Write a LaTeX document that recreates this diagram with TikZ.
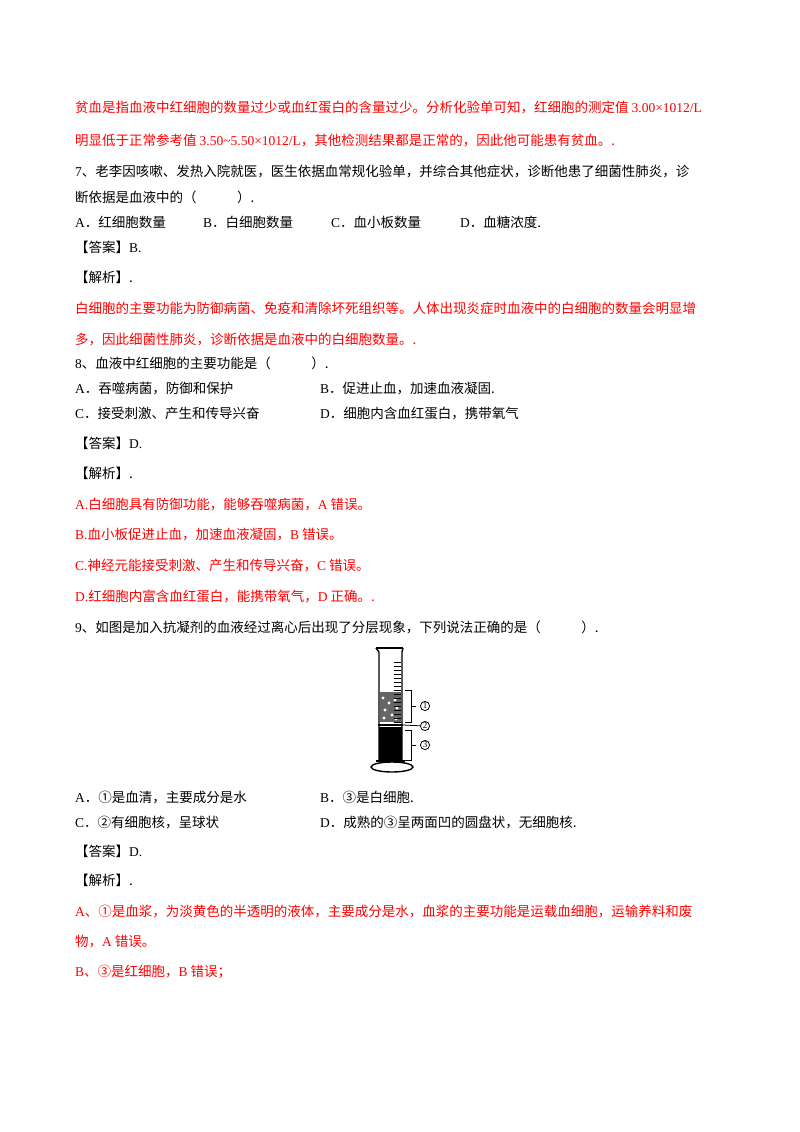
\documentclass[tikz,border=0pt]{standalone}
\usepackage{fontspec}
\setmainfont{Noto Sans CJK SC}
\newfontfamily\lat{Liberation Serif}
\definecolor{ansred}{HTML}{FF0000}
\tikzset{
  txt/.style={anchor=base west, inner sep=0pt, font=\fontsize{13.5}{16}\selectfont},
  redtxt/.style={txt, text=ansred},
  tube/.style={line width=1.4pt},
  tag/.style={circle, draw, line width=0.8pt, inner sep=0.6pt, font=\fontsize{9}{10}\selectfont\lat}
}
\begin{document}
\begin{tikzpicture}[x=1pt,y=-1pt]
  \useasboundingbox (0,0) rectangle (800,1132);
  % analysis of question 6
  \node[redtxt] (l1) at (75,112) {贫血是指血液中红细胞的数量过少或血红蛋白的含量过少。分析化验单可知，红细胞的测定值 {\lat 3.00×1012/L}};
  \node[redtxt] (l2) at (75,145) {明显低于正常参考值 {\lat 3.50\textasciitilde5.50×1012/L}，其他检测结果都是正常的，因此他可能患有贫血。.};
  % question 7
  \node[txt] (q7a) at (75,176) {{\lat 7}、老李因咳嗽、发热入院就医，医生依据血常规化验单，并综合其他症状，诊断他患了细菌性肺炎，诊};
  \node[txt] (q7b) at (75,202) {断依据是血液中的（\hspace{3em}）.};
  \node[txt] (q7A) at (75,227) {{\lat A}．红细胞数量};
  \node[txt] (q7B) at (203,227) {{\lat B}．白细胞数量};
  \node[txt] (q7C) at (331,227) {{\lat C}．血小板数量};
  \node[txt] (q7D) at (460,227) {{\lat D}．血糖浓度.};
  \node[txt] (a7) at (75,252) {【答案】{\lat B.}};
  \node[txt] (j7) at (75,282) {【解析】.};
  \node[redtxt] (e7a) at (75,313) {白细胞的主要功能为防御病菌、免疫和清除坏死组织等。人体出现炎症时血液中的白细胞的数量会明显增};
  \node[redtxt] (e7b) at (75,344) {多，因此细菌性肺炎，诊断依据是血液中的白细胞数量。.};
  % question 8
  \node[txt] (q8) at (75,368) {{\lat 8}、血液中红细胞的主要功能是（\hspace{3em}）.};
  \node[txt] (q8A) at (75,393) {{\lat A}．吞噬病菌，防御和保护};
  \node[txt] (q8B) at (320,393) {{\lat B}．促进止血，加速血液凝固.};
  \node[txt] (q8C) at (75,418) {{\lat C}．接受刺激、产生和传导兴奋};
  \node[txt] (q8D) at (320,418) {{\lat D}．细胞内含血红蛋白，携带氧气};
  \node[txt] (a8) at (75,448) {【答案】{\lat D.}};
  \node[txt] (j8) at (75,478) {【解析】.};
  \node[redtxt] (e8a) at (75,509) {{\lat A.}白细胞具有防御功能，能够吞噬病菌，{\lat A} 错误。};
  \node[redtxt] (e8b) at (75,539) {{\lat B.}血小板促进止血，加速血液凝固，{\lat B} 错误。};
  \node[redtxt] (e8c) at (75,570) {{\lat C.}神经元能接受刺激、产生和传导兴奋，{\lat C} 错误。};
  \node[redtxt] (e8d) at (75,601) {{\lat D.}红细胞内富含血红蛋白，能携带氧气，{\lat D} 正确。.};
  % question 9
  \node[txt] (q9) at (75,632) {{\lat 9}、如图是加入抗凝剂的血液经过离心后出现了分层现象，下列说法正确的是（\hspace{3em}）.};
  % graduated cylinder
  \fill[black] (379,727) rectangle (402,761);
  \fill[black!60] (380,692) rectangle (401,722);
  \foreach \px/\py in {383/698,389/703,395/700,385/710,392/715,397/708,384/718,396/719}
    \fill[white] (\px,\py) circle (1.6pt);
  \foreach \ty in {662,666,...,722}
    \draw[line width=0.8pt] (394,\ty) -- (401,\ty);
  \draw[tube] (376,648) -- (379,652) -- (379,761);
  \draw[tube] (403,648) -- (402,652) -- (402,761);
  \draw[tube] (376,648) -- (403,648);
  \draw[tube] (378,725) -- (403,725);
  \draw[tube] (376,761) -- (405,761);
  \draw[tube] (392,767) ellipse (21pt and 5pt);
  % layer labels
  \draw[line width=0.8pt] (405,690) -- (411,690) -- (411,722) -- (405,722);
  \draw[line width=0.8pt] (411,706) -- (416,706);
  \draw[line width=0.8pt] (405,730) -- (411,730) -- (411,760) -- (405,760);
  \draw[line width=0.8pt] (411,745) -- (416,745);
  \node[tag] (c1) at (425,706) {1};
  \node[tag] (c2) at (425,726) {2};
  \node[tag] (c3) at (425,745) {3};
  \coordinate (layer2) at (403,725);
  \draw[line width=0.8pt] (layer2) -- (c2);
  % options of question 9
  \node[txt] (q9A) at (75,802) {{\lat A}．①是血清，主要成分是水};
  \node[txt] (q9B) at (320,802) {{\lat B}．③是白细胞.};
  \node[txt] (q9C) at (75,827) {{\lat C}．②有细胞核，呈球状};
  \node[txt] (q9D) at (320,827) {{\lat D}．成熟的③呈两面凹的圆盘状，无细胞核.};
  \node[txt] (a9) at (75,856) {【答案】{\lat D.}};
  \node[txt] (j9) at (75,885) {【解析】.};
  \node[redtxt] (e9a) at (75,916) {{\lat A}、①是血浆，为淡黄色的半透明的液体，主要成分是水，血浆的主要功能是运载血细胞，运输养料和废};
  \node[redtxt] (e9b) at (75,946) {物，{\lat A} 错误。};
  \node[redtxt] (e9c) at (75,976) {{\lat B}、③是红细胞，{\lat B} 错误；};
\end{tikzpicture}
\end{document}
